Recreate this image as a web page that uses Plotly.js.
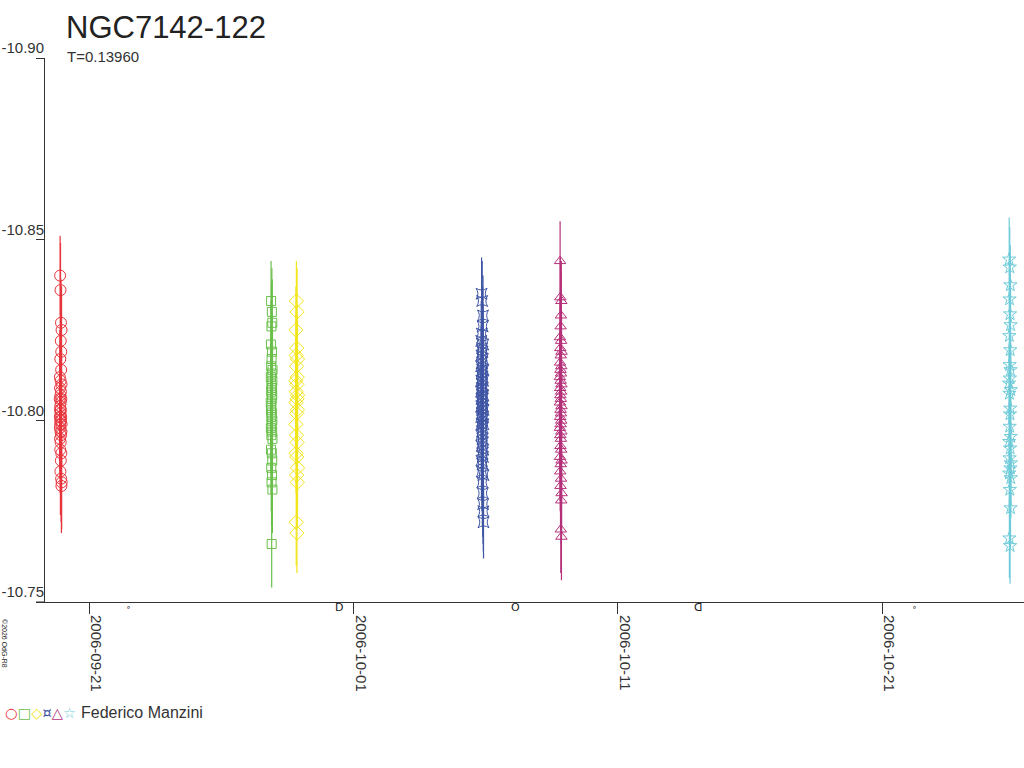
<!DOCTYPE html>
<html>
<head>
<meta charset="utf-8">
<script src="https://cdn.plot.ly/plotly-3.0.1.min.js"></script>
<style>html,body{margin:0;padding:0;background:#fff;}#chart{width:1024px;height:768px;}</style>
</head>
<body>
<div id="chart"></div>
<script>
// ---- data: [hour of night (UT), magnitude, error] ----
const nightDates = ["2006-09-19", "2006-09-27", "2006-09-28", "2006-10-05", "2006-10-08", "2006-10-25"];
const seriesColors = ["#e8343c", "#6abf4b", "#f2e51b", "#3f55a5", "#b5317a", "#6ecbd9"];
const seriesSymbols = ["circle-open", "square-open", "diamond-open", "star-square-open", "triangle-up-open", "star-open"];

const redRows = [
[21.20,-10.806,0.012],[21.25,-10.801,0.012],[21.29,-10.812,0.013],[21.33,-10.798,0.012],[21.38,-10.795,0.011],
[21.42,-10.803,0.012],[21.46,-10.809,0.012],[21.51,-10.840,0.011],[21.55,-10.799,0.012],[21.60,-10.804,0.013],
[21.64,-10.792,0.012],[21.68,-10.817,0.012],[21.73,-10.800,0.011],[21.77,-10.786,0.012],[21.81,-10.807,0.012],
[21.86,-10.836,0.013],[21.90,-10.797,0.012],[21.94,-10.802,0.012],[21.99,-10.811,0.011],[22.03,-10.794,0.012],
[22.07,-10.805,0.012],[22.12,-10.822,0.013],[22.16,-10.789,0.012],[22.20,-10.803,0.012],[22.25,-10.808,0.011],
[22.29,-10.827,0.012],[22.33,-10.796,0.012],[22.38,-10.800,0.013],[22.42,-10.784,0.012],[22.46,-10.814,0.012],
[22.51,-10.801,0.011],[22.55,-10.819,0.012],[22.59,-10.791,0.012],[22.64,-10.806,0.013],[22.68,-10.782,0.013],
[22.72,-10.797,0.012],[22.77,-10.810,0.011],[22.81,-10.825,0.012],[22.85,-10.799,0.012],[22.90,-10.783,0.013]
];
const greenRows = [
[20.80,-10.805,0.012],[20.85,-10.812,0.011],[20.89,-10.798,0.012],[20.94,-10.821,0.012],[20.98,-10.803,0.011],
[21.03,-10.792,0.012],[21.07,-10.833,0.011],[21.12,-10.808,0.012],[21.16,-10.815,0.012],[21.21,-10.801,0.011],
[21.25,-10.787,0.012],[21.30,-10.810,0.012],[21.34,-10.796,0.011],[21.39,-10.826,0.012],[21.43,-10.804,0.012],
[21.48,-10.783,0.012],[21.52,-10.817,0.011],[21.57,-10.799,0.012],[21.61,-10.766,0.012],[21.66,-10.806,0.012],
[21.70,-10.813,0.011],[21.75,-10.791,0.012],[21.79,-10.830,0.012],[21.84,-10.802,0.011],[21.88,-10.809,0.012],
[21.93,-10.785,0.012],[21.97,-10.819,0.011],[22.02,-10.797,0.012],[22.06,-10.807,0.012],[22.11,-10.789,0.011],
[22.15,-10.827,0.012],[22.20,-10.800,0.012],[22.24,-10.811,0.011],[22.29,-10.781,0.012],[22.33,-10.795,0.012],
[22.38,-10.814,0.011]
];
const yellowRows = [
[19.50,-10.811,0.012],[19.57,-10.799,0.011],[19.64,-10.825,0.012],[19.70,-10.805,0.012],[19.77,-10.791,0.011],
[19.84,-10.818,0.012],[19.90,-10.772,0.012],[19.97,-10.808,0.011],[20.04,-10.833,0.011],[20.10,-10.796,0.012],
[20.17,-10.815,0.012],[20.24,-10.785,0.011],[20.30,-10.802,0.012],[20.37,-10.820,0.012],[20.44,-10.790,0.011],
[20.50,-10.810,0.012],[20.57,-10.769,0.011],[20.64,-10.806,0.012],[20.70,-10.830,0.012],[20.77,-10.794,0.011],
[20.84,-10.812,0.012],[20.90,-10.783,0.012],[20.97,-10.803,0.011],[21.04,-10.817,0.012],[21.10,-10.787,0.012],
[21.17,-10.807,0.011]
];
const blueRows = [
[19.80,-10.808,0.011],[19.84,-10.815,0.011],[19.88,-10.801,0.012],[19.92,-10.822,0.011],[19.96,-10.796,0.011],
[20.00,-10.811,0.012],[20.04,-10.804,0.011],[20.08,-10.789,0.011],[20.12,-10.818,0.012],[20.16,-10.806,0.011],
[20.20,-10.835,0.010],[20.24,-10.799,0.011],[20.28,-10.813,0.012],[20.32,-10.793,0.011],[20.36,-10.809,0.011],
[20.40,-10.824,0.012],[20.44,-10.802,0.011],[20.48,-10.786,0.011],[20.52,-10.816,0.012],[20.56,-10.805,0.011],
[20.60,-10.797,0.011],[20.64,-10.820,0.012],[20.68,-10.810,0.011],[20.72,-10.791,0.011],[20.76,-10.833,0.011],
[20.80,-10.807,0.012],[20.84,-10.800,0.011],[20.88,-10.814,0.011],[20.92,-10.783,0.012],[20.96,-10.803,0.011],
[21.00,-10.819,0.011],[21.04,-10.795,0.012],[21.08,-10.812,0.011],[21.12,-10.788,0.011],[21.16,-10.806,0.012],
[21.20,-10.826,0.011],[21.24,-10.798,0.011],[21.28,-10.780,0.012],[21.32,-10.809,0.011],[21.36,-10.817,0.011],
[21.40,-10.794,0.012],[21.44,-10.804,0.011],[21.48,-10.829,0.011],[21.52,-10.790,0.012],[21.56,-10.811,0.011],
[21.60,-10.777,0.011],[21.64,-10.801,0.012],[21.68,-10.821,0.011],[21.72,-10.792,0.011],[21.76,-10.807,0.012],
[21.80,-10.775,0.011],[21.84,-10.814,0.011],[21.88,-10.799,0.012],[21.92,-10.785,0.011],[21.96,-10.772,0.010],
[22.00,-10.803,0.011]
];
const magentaRows = [
[19.30,-10.812,0.012],[19.34,-10.798,0.012],[19.38,-10.823,0.011],[19.41,-10.805,0.012],[19.45,-10.790,0.012],
[19.49,-10.816,0.011],[19.52,-10.844,0.011],[19.56,-10.801,0.012],[19.60,-10.809,0.012],[19.63,-10.786,0.011],
[19.67,-10.820,0.012],[19.71,-10.796,0.012],[19.74,-10.834,0.011],[19.78,-10.807,0.012],[19.82,-10.793,0.012],
[19.85,-10.814,0.011],[19.89,-10.782,0.012],[19.93,-10.803,0.012],[19.96,-10.826,0.011],[20.00,-10.799,0.012],
[20.04,-10.811,0.012],[20.07,-10.788,0.011],[20.11,-10.818,0.012],[20.15,-10.770,0.012],[20.18,-10.806,0.011],
[20.22,-10.795,0.012],[20.26,-10.829,0.012],[20.29,-10.802,0.011],[20.33,-10.813,0.012],[20.37,-10.784,0.012],
[20.40,-10.808,0.011],[20.44,-10.822,0.012],[20.48,-10.792,0.012],[20.51,-10.800,0.011],[20.55,-10.778,0.012],
[20.59,-10.815,0.012],[20.62,-10.833,0.011],[20.66,-10.797,0.012],[20.70,-10.810,0.012],[20.73,-10.768,0.012],
[20.77,-10.804,0.012],[20.81,-10.819,0.011],[20.84,-10.789,0.012],[20.88,-10.780,0.012]
];
const cyanRows = [
[19.20,-10.8103,0.011],[19.26,-10.7942,0.011],[19.31,-10.8445,0.0115],[19.37,-10.7855,0.011],[19.43,-10.8234,0.011],
[19.49,-10.7676,0.011],[19.54,-10.8075,0.011],[19.60,-10.8335,0.011],[19.66,-10.7897,0.011],[19.71,-10.8154,0.011],
[19.77,-10.7984,0.011],[19.83,-10.8423,0.011],[19.89,-10.7810,0.011],[19.94,-10.8117,0.011],[20.00,-10.8018,0.011],
[20.06,-10.8294,0.011],[20.11,-10.7655,0.0105],[20.17,-10.7924,0.011],[20.23,-10.8195,0.011],[20.29,-10.8034,0.011],
[20.34,-10.8374,0.011],[20.40,-10.7869,0.011],[20.46,-10.8140,0.011],[20.51,-10.7759,0.011],[20.57,-10.8264,0.011],
[20.63,-10.7956,0.011],[20.69,-10.8085,0.011],[20.74,-10.7842,0.011],[20.80,-10.7883,0.011]
];
const allRows = [redRows, greenRows, yellowRows, blueRows, magentaRows, cyanRows];
const markerSizes = [11, 9, 11, 10, 10, 10];

// moon phases
const moonDates = ["2006-09-22 11:45", "2006-09-30 11:04", "2006-10-07 03:13", "2006-10-14 00:26", "2006-10-22 05:14"];
const moonGlyphs = ["\u2218", "D", "O", "\u15E1", "\u2218"];

const yTicks = [-10.90, -10.85, -10.80, -10.75];
const xTickDates = ["2006-09-21", "2006-10-01", "2006-10-11", "2006-10-21"];

const titleText = "NGC7142-122";
const subText = "T=0.13960";
const observer = "Federico Manzini";
const copyright = "\u00A92026 OdG-R8";
const legendGlyphs = ["\u25CB", "\u25A1", "\u25C7", "\u00A4", "\u25B3", "\u2606"];

function stamp(date, h) {
  const hh = Math.floor(h);
  const mm = Math.round((h - hh) * 60);
  return date + " " + String(hh).padStart(2, "0") + ":" + String(mm).padStart(2, "0");
}

const traces = allRows.map((rows, i) => ({
  type: "scatter",
  mode: "markers",
  x: rows.map(r => stamp(nightDates[i], r[0])),
  y: rows.map(r => r[1]),
  error_y: { type: "data", array: rows.map(r => r[2]), visible: true, color: seriesColors[i], thickness: 1.2, width: 0 },
  marker: { symbol: seriesSymbols[i], size: markerSizes[i], color: seriesColors[i], line: { width: 1, color: seriesColors[i] } },
  showlegend: false,
  hoverinfo: "x+y"
}));

const L = 45, T = 58, B = 166, W = 1024, H = 768;
const pw = W - L, ph = H - T - B;
const px2x = p => (p - L) / pw;
const py2y = p => (H - B - p) / ph;

const font = "Liberation Sans, Arial, Helvetica, sans-serif";
const annotations = [
  { text: titleText, xref: "paper", yref: "paper", x: px2x(64), y: py2y(27), xanchor: "left", yanchor: "middle", showarrow: false, font: { family: font, size: 31, color: "#222" } },
  { text: subText, xref: "paper", yref: "paper", x: px2x(65), y: py2y(57), xanchor: "left", yanchor: "middle", showarrow: false, font: { family: font, size: 15, color: "#333" } },
  { text: copyright, xref: "paper", yref: "paper", x: px2x(5), y: py2y(643), xanchor: "center", yanchor: "middle", textangle: 90, showarrow: false, font: { family: font, size: 7, color: "#222" } },
  { text: seriesColors.map((c, i) => '<span style="color:' + c + '">' + legendGlyphs[i] + '</span>').join(""),
    xref: "paper", yref: "paper", x: px2x(3), y: py2y(713), xanchor: "left", yanchor: "middle", showarrow: false, font: { family: "DejaVu Sans, sans-serif", size: 14.5, color: "#333" } },
  { text: observer, xref: "paper", yref: "paper", x: px2x(79), y: py2y(712), xanchor: "left", yanchor: "middle", showarrow: false, font: { family: font, size: 16, color: "#333" } }
];
moonDates.forEach((d, i) => annotations.push({
  text: moonGlyphs[i], x: d, xref: "x", yref: "paper", y: py2y(607), xanchor: "center", yanchor: "middle", showarrow: false,
  font: { family: "DejaVu Sans, sans-serif", size: i === 0 || i === 4 ? 8 : 11, color: "#222" }
}));

const layout = {
  width: W, height: H, autosize: false,
  margin: { l: L, r: 0, t: T, b: B, pad: 0 },
  paper_bgcolor: "#fff", plot_bgcolor: "#fff",
  font: { family: font, color: "#333" },
  xaxis: {
    type: "date", range: ["2006-09-19 07:47", "2006-10-26 08:45"],
    tickmode: "array", tickvals: xTickDates, ticktext: xTickDates,
    tickangle: 90, ticks: "outside", ticklen: 11, tickcolor: "#333", tickwidth: 1,
    ticklabelshift: 7, ticklabelstandoff: -2, tickfont: { family: font, size: 15, color: "#333" },
    showline: true, linecolor: "#333", linewidth: 1, showgrid: false, zeroline: false
  },
  yaxis: {
    range: [-10.75, -10.90], autorange: false,
    tickmode: "array", tickvals: yTicks, ticktext: yTicks.map(v => v.toFixed(2)),
    ticks: "outside", ticklen: 8, tickcolor: "#333", tickwidth: 1,
    ticklabelstandoff: -11, ticklabelshift: 10, tickfont: { family: font, size: 15, color: "#333" },
    showline: true, linecolor: "#333", linewidth: 1, showgrid: false, zeroline: false
  },
  shapes: [
    { type: "line", xref: "paper", yref: "paper", x0: px2x(36), x1: 0, y0: 0, y1: 0, line: { color: "#333", width: 1 } }
  ],
  annotations: annotations,
  showlegend: false
};

Plotly.newPlot("chart", traces, layout, { staticPlot: true, displayModeBar: false });
</script>
</body>
</html>
